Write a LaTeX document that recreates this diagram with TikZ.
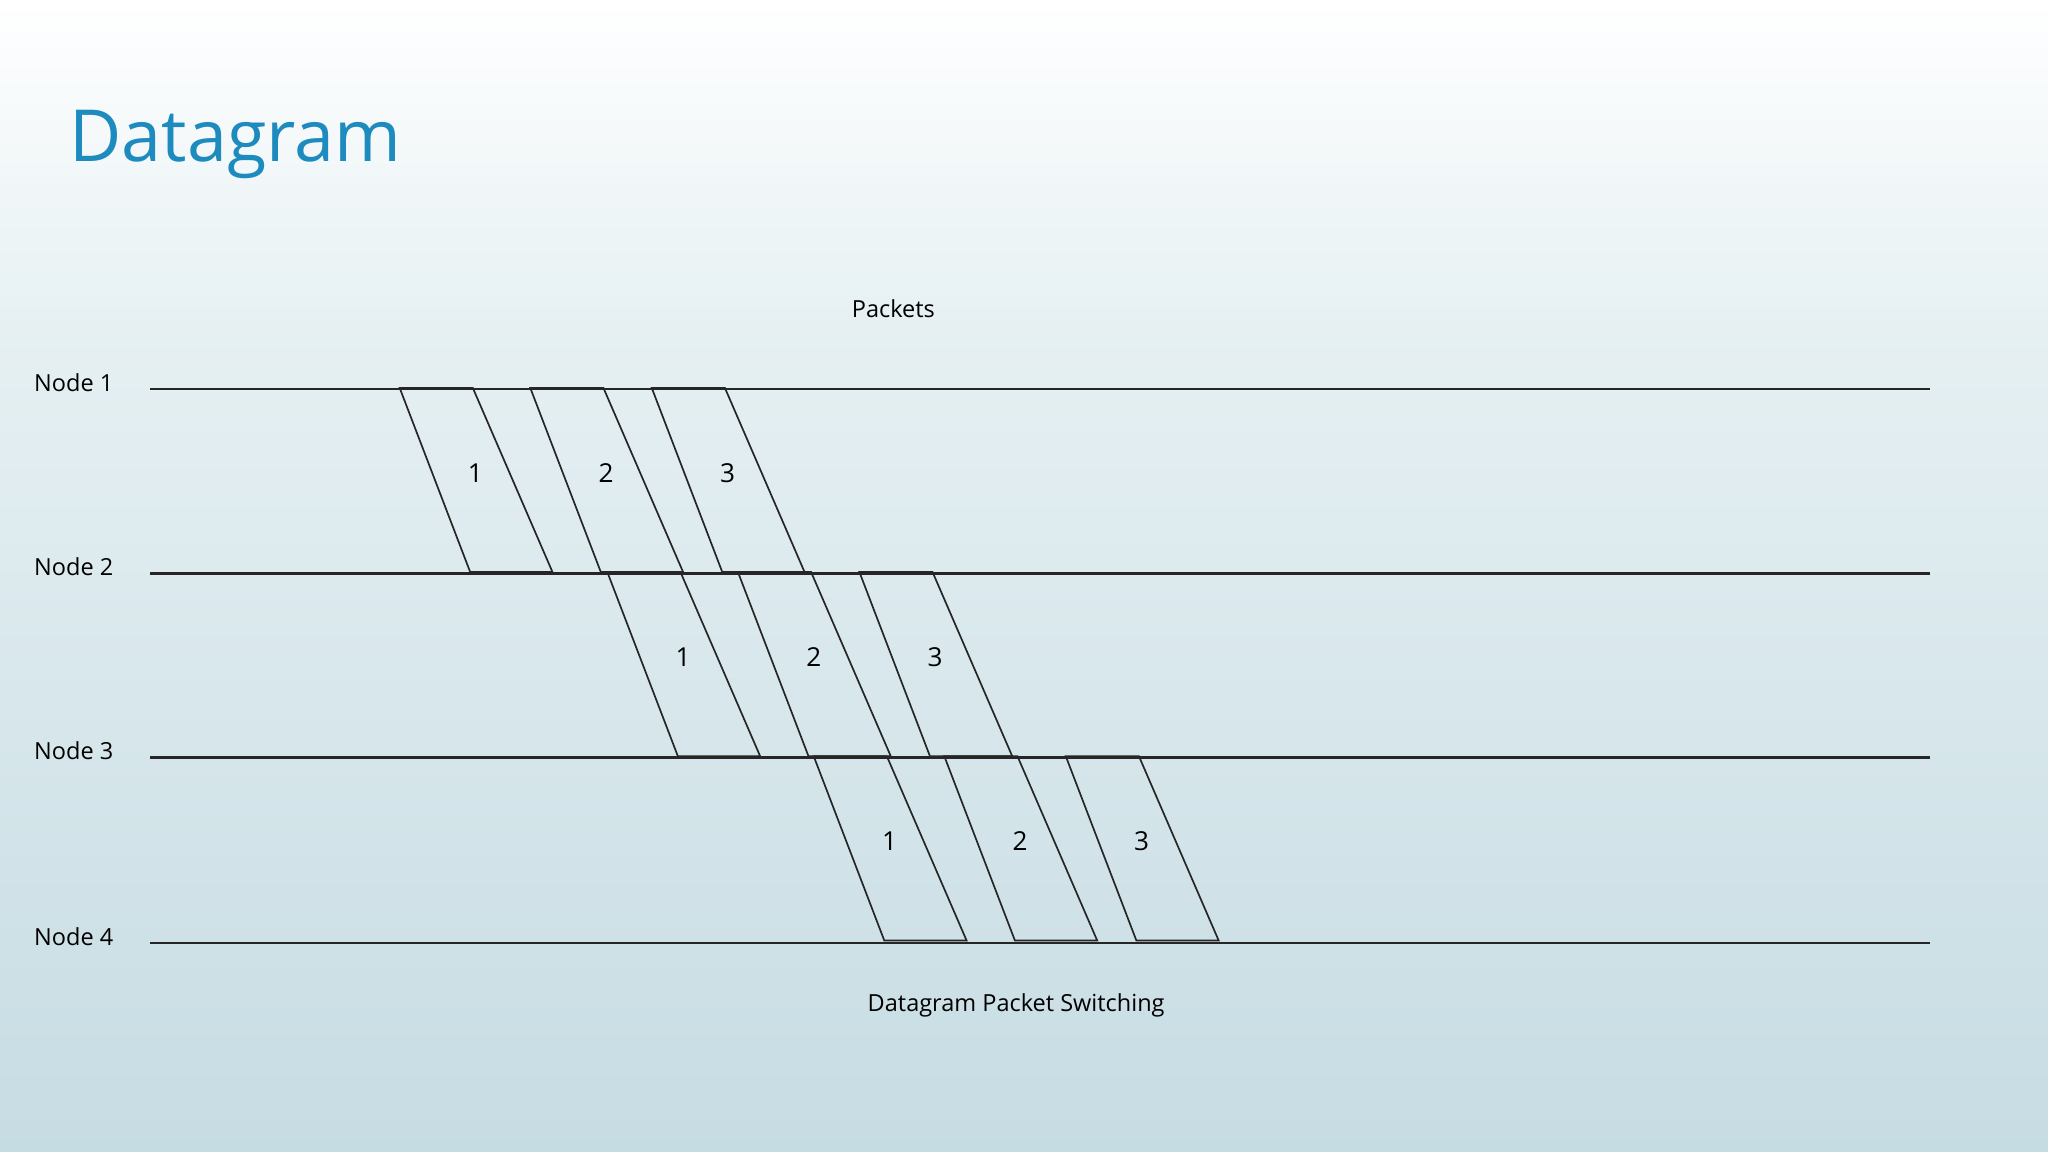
\documentclass[tikz,border=0pt]{standalone}
\usepackage{fontspec}
\setmainfont{Open Sans}
\definecolor{titleblue}{HTML}{1E8BBF}
\definecolor{bgtop}{HTML}{FFFFFF}
\definecolor{bgmid}{HTML}{E6F0F3}
\definecolor{bgbot}{HTML}{C6DCE3}
\begin{document}
\begin{tikzpicture}[x=1pt,y=-1pt,
  lane/.style={draw=black!85,line width=1.8pt},
  pkt/.style={draw=black!85,line width=1.3pt},
  lbl/.style={font=\fontsize{18}{20}\selectfont,anchor=west,inner sep=0pt},
  num/.style={font=\fontsize{20}{22}\selectfont,inner sep=0pt}]
\useasboundingbox (0,0) rectangle (1568,882);
\shade[top color=bgtop,bottom color=bgmid] (0,0) rectangle (1568,250);
\shade[top color=bgmid,bottom color=bgbot] (0,250) rectangle (1568,882);
\node[font=\fontsize{55}{58}\selectfont,text=titleblue,anchor=west,inner sep=0pt] (title) at (53,111) {Datagram};
\node[font=\fontsize{18}{20}\selectfont,inner sep=0pt] (packets) at (684,236) {Packets};
\node[font=\fontsize{18}{20}\selectfont,inner sep=0pt] (caption) at (778,770) {Datagram Packet Switching};
\foreach \i/\y in {1/298,2/439,3/580,4/722}{
  \node[lbl] (n\i) at (26,\y-5) {Node \i};
  \coordinate (a\i) at (115,\y);
  \coordinate (b\i) at (1478,\y);
  \draw[lane] (a\i) -- (b\i);
}
\foreach \r/\dx/\yt in {0/0/297,1/159/438,2/317/579}{
  \foreach \k/\off in {1/0,2/100,3/193}{
    \pgfmathsetmacro{\xa}{306+\dx+\off}
    \draw[pkt] (\xa,\yt) -- (\xa+56,\yt) -- (\xa+117,\yt+141) -- (\xa+54,\yt+141) -- cycle;
    \node[num] (p\r\k) at (\xa+58,\yt+65) {\k};
  }
}
\end{tikzpicture}
\end{document}
